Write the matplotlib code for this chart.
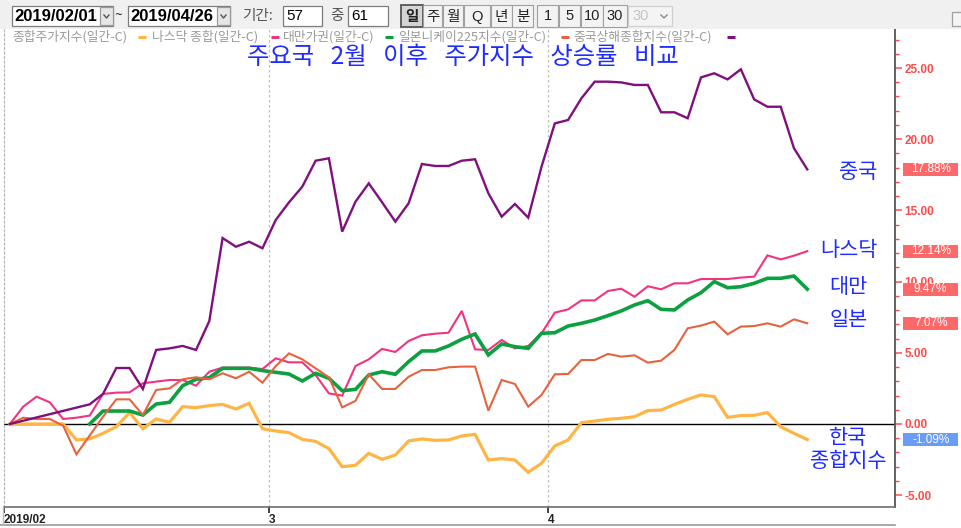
import numpy as np
import matplotlib
matplotlib.use('Agg')
import matplotlib.pyplot as plt
from matplotlib.patches import Rectangle
from matplotlib.ticker import MultipleLocator, FuncFormatter
from matplotlib.transforms import blended_transform_factory

plt.rcParams['font.family'] = ['Noto Sans CJK KR', 'DejaVu Sans']

nan = np.nan

# 61 daily points, 2019/02/01 ~ 2019/04/26 (% change since 2/1); nan = market closed
kospi = [0.0, nan, nan, nan, 0.0, -1.12, -1.05, -0.66, -0.19, 0.80,
         -0.33, 0.35, 0.12, 1.22, 1.15, 1.29, 1.38, 1.05, 1.45, -0.33,
         -0.49, -0.61, -1.08, -1.22, -1.73, -3.00, -2.90, -2.06, -2.48, -2.18,
         -1.19, -1.05, -1.15, -1.12, -0.84, -0.73, -2.53, -2.43, -2.53, -3.39,
         -2.76, -1.54, -1.12, 0.09, 0.21, 0.33, 0.40, 0.51, 0.94, 0.98,
         1.38, 1.73, 2.04, 1.92, 0.47, 0.59, 0.61, 0.80, -0.19, -0.66, -1.09]
nasdaq = [0.0, 1.22, 1.92, 1.52, 0.35, 0.44, 0.59, 2.11, 2.20, 2.22,
          2.86, nan, 3.09, 3.09, 2.69, 3.67, 3.96, 3.96, 3.96, 3.86,
          4.61, 4.33, 4.33, 3.44, 2.15, 1.99, 4.07, 4.54, 5.27, 5.06,
          5.83, 6.23, 6.34, 6.41, 7.94, 5.24, 5.20, 5.90, 5.31, 5.48,
          6.37, 7.82, 8.05, 8.68, 8.68, 9.34, 9.50, 8.94, 9.67, 9.46,
          9.88, 9.88, 10.18, 10.18, 10.18, 10.28, 10.35, 11.84, 11.56, 11.82, 12.14]
taiwan = [nan, nan, nan, nan, nan, nan, 0.0, 0.91, 0.91, 0.91,
          0.63, 1.40, 1.52, 2.69, 3.14, 3.25, 3.91, 3.91, 3.91, 3.75,
          3.63, 3.51, 3.02, 3.56, 3.21, 2.34, 2.43, 3.44, 3.67, 3.49,
          4.38, 5.13, 5.13, 5.48, 5.95, 6.32, 4.85, 5.62, 5.43, 5.31,
          6.37, 6.41, 6.88, 7.07, 7.30, 7.61, 7.94, 8.36, 8.66, 8.05,
          8.01, 8.71, 9.22, 10.00, 9.57, 9.64, 9.88, 10.23, 10.23, 10.39, 9.47]
nikkei = [0.0, 0.44, 0.35, 0.35, -0.12, -2.13, nan, 0.51, 1.73, 1.73,
          0.63, 2.39, 2.50, 3.14, 3.28, 3.14, 3.56, 3.21, 3.67, 2.90,
          4.07, 4.96, 4.54, 3.91, 3.28, 1.17, 1.62, 3.49, 2.46, 2.46,
          3.32, 3.79, 3.79, 3.98, 4.03, 4.03, 0.94, 3.09, 2.81, 1.22,
          2.04, 3.49, 3.51, 4.49, 4.49, 4.92, 4.73, 4.82, 4.31, 4.45,
          5.20, 6.72, 6.91, 7.19, 6.30, 6.84, 6.88, 7.07, 6.84, 7.35, 7.07]
shanghai = [0.0, nan, nan, nan, nan, nan, 1.38, 2.11, 3.93, 3.93,
            2.46, 5.20, 5.31, 5.48, 5.20, 7.23, 13.06, 12.45, 12.80, 12.34,
            14.33, 15.57, 16.67, 18.49, 18.66, 13.51, 15.61, 16.90, 15.57, 14.21,
            15.50, 18.26, 18.12, 18.12, 18.49, 18.59, 16.20, 14.56, 15.45, 14.49,
            18.07, 21.11, 21.35, 22.87, 24.04, 24.04, 23.99, 23.81, 23.81, 21.89,
            21.89, 21.47, 24.34, 24.63, 24.20, 24.91, 22.80, 22.28, 22.28, 19.36, 17.88]

series_names = ['종합주가지수(일간-C)', '나스닥 종합(일간-C)', '대만가권(일간-C)',
                '일본니케이225지수(일간-C)', '중국상해종합지수(일간-C)']
short_names = ['한국\n종합지수', '나스닥', '대만', '일본', '중국']
colors = ['#ffb545', '#f2337f', '#0ca040', '#e5643f', '#80107f']
widths = [2.3, 1.5, 2.6, 1.5, 1.7]
all_series = [kospi, nasdaq, taiwan, nikkei, shanghai]
label_y = [-1.8, 12.25, 9.6, 7.3, 17.7]

month_ticks = [-0.45, 19.5, 40.5]
month_labels = ['2019/02', '3', '4']

fig = plt.figure(figsize=(9.62, 5.28), dpi=100)
ax = fig.add_axes([4 / 962, 21 / 528, 891 / 962, 478 / 528])
ax.set_xlim(-0.45, 66.6)
ax.set_ylim(-5.83, 27.74)

days = np.arange(61)
order = [3, 0, 1, 2, 4]
for k in order:
    y = np.array(all_series[k], dtype=float)
    ok = ~np.isnan(y)
    ax.plot(days[ok], y[ok], color=colors[k], lw=widths[k], zorder=3 + k * 0.1,
            solid_joinstyle='miter')

ax.axhline(0, color='black', lw=1.0, zorder=2)
for xv in month_ticks[1:]:
    ax.axvline(xv, color='#bdbdbd', ls=(0, (2, 2)), lw=0.9, zorder=1)

# spines
ax.spines['top'].set_visible(False)
ax.spines['left'].set_color('#b5b5b5')
ax.spines['left'].set_linestyle((0, (2, 2)))
ax.spines['right'].set_color('#555555')
ax.spines['right'].set_linewidth(1.3)
ax.spines['bottom'].set_color('#6e6e6e')
ax.spines['bottom'].set_linewidth(1.2)

# right value axis
ax.yaxis.tick_right()
ax.yaxis.set_major_locator(MultipleLocator(5))
ax.yaxis.set_minor_locator(MultipleLocator(1))
ax.yaxis.set_major_formatter(FuncFormatter(lambda v, p: f'{v:.2f}'))
ax.tick_params(axis='y', which='major', length=5, width=1.1, color='#ff4a4a',
               labelcolor='#ff4a4a', labelsize=8.5, pad=2)
ax.tick_params(axis='y', which='minor', length=3, width=1.0, color='#ff4a4a')
for t in ax.get_yticklabels():
    t.set_fontfamily('Liberation Sans')
    t.set_fontweight('bold')

# month axis
ax.set_xticks(month_ticks)
ax.set_xticklabels(month_labels)
ax.tick_params(axis='x', length=4, width=1.3, color='#333333', labelcolor='#222222',
               labelsize=8.5, pad=1)
for t in ax.get_xticklabels():
    t.set_ha('left')
    t.set_fontfamily('Liberation Sans')
    t.set_fontweight('bold')

# last value tags on the right axis
bt = blended_transform_factory(ax.transAxes, ax.transData)
for k, s in enumerate(all_series):
    v = s[-1]
    face = '#ff6868' if v >= 0 else '#6b9cf5'
    ax.add_patch(Rectangle((1.009, v - 0.46), 0.0617, 0.92, transform=bt,
                           facecolor=face, edgecolor='none', clip_on=False, zorder=6))
    ax.text(1.04, v, f'{v:.2f}%', transform=bt, ha='center', va='center',
            color='white', fontsize=8.5, family='Liberation Sans', zorder=7, clip_on=False)

# country names next to line ends
for k, name in enumerate(short_names):
    xx = 63.8 if k == 4 else 63.1
    ax.text(xx, label_y[k], name, ha='center', va='center', color='#1f2bff',
            fontsize=15, linespacing=1.1, zorder=8)

# overlay in pixel coordinates for the toolbar, legend and title
ov = fig.add_axes([0, 0, 1, 1], zorder=10)
ov.set_xlim(0, 962)
ov.set_ylim(528, 0)
ov.axis('off')
ov.patch.set_visible(False)

ov.add_patch(Rectangle((0, 0), 962, 29, facecolor='#f0f0f0', edgecolor='none'))
ov.plot([0, 895], [525, 525], color='#9a9a9a', lw=1.2)
ov.plot([3, 3], [507, 525], color='#bbbbbb', lw=1.0)


def box(x0, x1, y0=6, y1=26, face='white', edge='#7d7d7d', lw=0.9):
    ov.add_patch(Rectangle((x0, y0), x1 - x0, y1 - y0, facecolor=face,
                           edgecolor=edge, linewidth=lw))


def combo(x0, x1, txt):
    box(x0, x1)
    box(x1 - 13, x1, 7, 25, face='#e6e6e6', edge='#9a9a9a')
    ov.plot([x1 - 9, x1 - 6.5, x1 - 4], [15, 18, 15], color='#555555', lw=1)
    ov.text(x0 + 2, 16.5, txt, ha='left', va='center', fontsize=12,
            family='Liberation Sans', fontweight='bold', color='black')


combo(12, 113, '2019/02/01')
ov.text(118, 16, '~', ha='center', va='center', fontsize=10, color='#333333')
combo(128, 230, '2019/04/26')
ov.text(242, 16, '기간:', ha='left', va='center', fontsize=10.5, color='#555555')
box(283, 322)
ov.text(286, 16.5, '57', ha='left', va='center', fontsize=11, family='Liberation Sans')
ov.text(330, 16, '중', ha='left', va='center', fontsize=10.5, color='#555555')
box(348, 388)
ov.text(351, 16.5, '61', ha='left', va='center', fontsize=11, family='Liberation Sans')

buttons = [('일', 401, 423), ('주', 423, 442), ('월', 443, 463), ('Q', 464, 490),
           ('년', 491, 512), ('분', 512, 533), ('1', 537, 558), ('5', 559, 580),
           ('10', 581, 603), ('30', 603, 627)]
for i, (lab, x0, x1) in enumerate(buttons):
    pressed = i == 0
    box(x0, x1, 5, 27, face='#d4d4d4' if pressed else '#f3f3f3',
        edge='#555555' if pressed else '#a0a0a0', lw=1.3 if pressed else 0.8)
    ov.text((x0 + x1) / 2, 16.5, lab, ha='center', va='center', fontsize=10.5,
            color='#222222', fontweight='bold' if pressed else 'normal',
            family=['Liberation Sans', 'Noto Sans CJK KR'])
box(628, 672, 6, 26, face='#f4f4f4', edge='#d0d0d0')
ov.text(632, 16.5, '30', ha='left', va='center', fontsize=10.5, color='#c4c4c4',
        family='Liberation Sans')
ov.plot([661, 664, 667], [15, 18, 15], color='#888888', lw=1)
box(952, 962, 12, 26, face='#f4f4f4', edge='#a0a0a0')

# legend row
leg_x = [12, 152, 283, 398, 573]
dash_x = [138, 271, 385, 561, 727]
for k in range(5):
    ov.text(leg_x[k], 36.5, series_names[k], ha='left', va='center', fontsize=9.2,
            color='#9a9a9a')
    ov.plot([dash_x[k], dash_x[k] + 8], [37, 37], color=colors[k], lw=2.2,
            solid_capstyle='butt')

ov.text(463, 57, '주요국   2월   이후   주가지수   상승률   비교', ha='center', va='center',
        fontsize=17.5, color='#1f2bff')

fig.savefig('out.png', dpi=100, facecolor='white')
